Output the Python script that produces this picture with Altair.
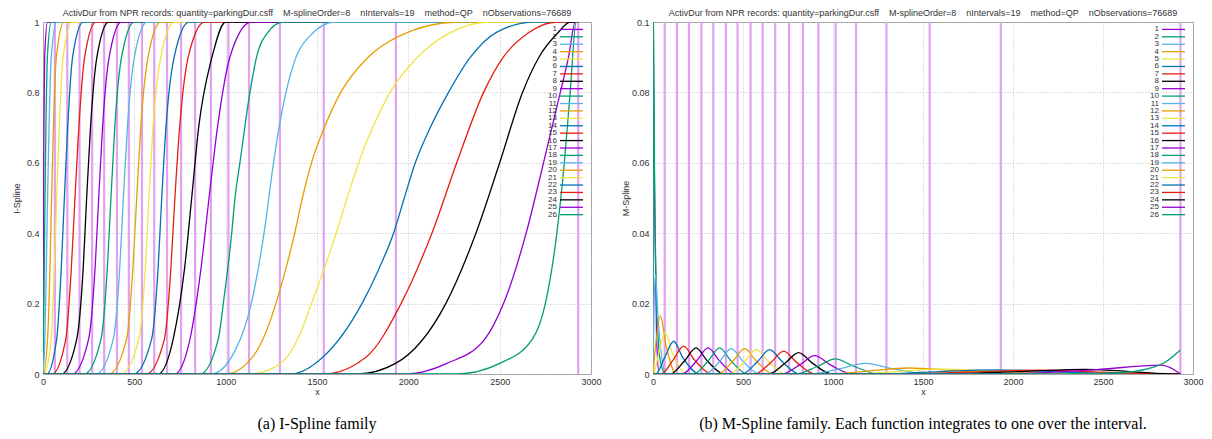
import altair as alt
import pandas as pd

NB = "\u00a0\u00a0\u00a0\u00a0"
HEADER = ("ActivDur from NPR records: quantity=parkingDur.csff" + NB + "M-splineOrder=8" + NB +
          "nIntervals=19" + NB + "method=QP" + NB + "nObservations=76689")
CAPTION_A = "(a) I-Spline family"
CAPTION_B = "(b) M-Spline family. Each function integrates to one over the interval."

curve_ids = [str(k) for k in range(1, 27)]
base_palette = ["#9400d3", "#009e73", "#56b4e9", "#e69f00", "#f0e442", "#0072b2", "#e51e10", "#000000"]
curve_colors = (base_palette * 4)[:26]

knots = [65, 133, 200, 269, 335, 405, 470, 542, 609, 679, 756, 833, 919, 1015, 1128, 1297, 1537, 1932, 2930]
x_end = 2930

x_ticks = [0, 500, 1000, 1500, 2000, 2500, 3000]
i_ticks = [0, 0.2, 0.4, 0.6, 0.8, 1.0]
m_ticks = [0, 0.02, 0.04, 0.06, 0.08, 0.1]

# I-spline curves: points (x, level)
L7 = [0.0, 0.1, 0.3, 0.5, 0.7, 0.9, 1.0]
i_spline_y = [L7] * 17 + [
    [0, 0.1, 0.2, 0.4, 0.5, 0.6, 0.8, 0.9, 0.97, 1],
    [0, 0.07, 0.2, 0.4, 0.6, 0.7, 0.8, 0.9, 0.96, 1],
    [0, 0.05, 0.1, 0.2, 0.3, 0.4, 0.5, 0.6, 0.7, 0.8, 0.9, 0.96, 1],
    [0, 0.03, 0.1, 0.2, 0.3, 0.4, 0.5, 0.6, 0.7, 0.8, 0.9, 0.97, 1],
    [0, 0.05, 0.2, 0.3, 0.4, 0.5, 0.6, 0.7, 0.8, 0.9, 0.97, 1],
    [0, 0.05, 0.2, 0.4, 0.6, 0.8, 0.9, 0.97, 1],
    [0, 0.03, 0.2, 0.4, 0.6, 0.8, 0.9, 0.97, 1],
    [0, 0.03, 0.1, 0.2, 0.4, 0.6, 0.8, 0.9, 1],
    [0, 0.03, 0.1, 0.2, 0.4, 0.6, 0.8, 1],
]
i_spline_x = [
    [0, 0.5, 1.5, 3, 5, 9, 25],
    [0, 3, 7, 11, 16, 24, 45],
    [0, 10, 18, 25, 33, 45, 75],
    [2, 25, 38, 47, 57, 73, 115],
    [5, 45, 62, 75, 89, 110, 160],
    [20, 75, 100, 117, 135, 162, 220],
    [50, 125, 155, 175, 196, 228, 290],
    [100, 185, 220, 239, 260, 295, 360],
    [160, 250, 285, 305, 326, 362, 430],
    [225, 318, 352, 372, 393, 430, 500],
    [290, 385, 420, 440, 462, 500, 570],
    [360, 458, 492, 513, 535, 575, 645],
    [425, 525, 560, 580, 602, 645, 720],
    [495, 595, 630, 650, 673, 718, 800],
    [565, 665, 700, 722, 748, 795, 885],
    [630, 713, 775, 814, 852, 925, 1000],
    [720, 805, 865, 909, 955, 1023, 1140],
    [860, 960, 987, 1033, 1051, 1078, 1133, 1169, 1230, 1315],
    [920, 1055, 1140, 1210, 1262, 1292, 1330, 1385, 1460, 1600],
    [1000, 1150, 1205, 1275, 1330, 1378, 1420, 1470, 1540, 1630, 1780, 1950, 2270],
    [1130, 1300, 1395, 1470, 1540, 1605, 1665, 1728, 1805, 1900, 2050, 2230, 2450],
    [1354, 1536, 1746, 1840, 1919, 1978, 2038, 2120, 2220, 2340, 2480, 2690],
    [1536, 1773, 1960, 2129, 2265, 2412, 2520, 2660, 2813],
    [1719, 1930, 2205, 2370, 2500, 2625, 2715, 2820, 2886],
    [1992, 2211, 2420, 2521, 2645, 2740, 2832, 2877, 2914],
    [2266, 2500, 2680, 2750, 2813, 2854, 2886, 2919],
]

# M-spline curves: points read along each bump (x, value)
m_spline_x = [
    [0, 4, 10, 20, 35],
    [0, 2, 8, 20, 40, 70],
    [0, 4, 13, 30, 75],
    [0, 15, 41, 72, 130],
    [2, 32, 68, 108, 190],
    [15, 65, 115, 165, 260],
    [45, 112, 170, 230, 330],
    [95, 175, 239, 302, 395],
    [160, 242, 306, 370, 460],
    [225, 306, 370, 434, 525],
    [290, 371, 435, 500, 592],
    [360, 443, 509, 575, 668],
    [425, 508, 574, 642, 735],
    [495, 580, 648, 718, 815],
    [565, 655, 726, 798, 900],
    [640, 735, 809, 885, 995],
    [715, 815, 898, 985, 1110],
    [790, 915, 1013, 1115, 1260],
    [880, 1040, 1180, 1330, 1530],
    [1000, 1200, 1420, 1700, 2050],
    [1100, 1350, 1600, 1950, 2400],
    [1250, 1550, 1900, 2250, 2700],
    [1400, 1800, 2150, 2450, 2850],
    [1600, 2050, 2400, 2650, 2920],
    [1900, 2450, 2820, 2895, 2930],
    [2300, 2600, 2750, 2850, 2930],
]
m_spline_y = [
    [0.123, 0.08, 0.045, 0.01, 0],
    [0, 0.1, 0.06, 0.02, 0.004, 0],
    [0, 0.0142, 0.0284, 0.0142, 0],
    [0, 0.0083, 0.0165, 0.0083, 0],
    [0, 0.0059, 0.0117, 0.0059, 0],
    [0, 0.0047, 0.0093, 0.0047, 0],
    [0, 0.0040, 0.0079, 0.0040, 0],
    [0, 0.0037, 0.0074, 0.0037, 0],
    [0, 0.0037, 0.0074, 0.0037, 0],
    [0, 0.0037, 0.0074, 0.0037, 0],
    [0, 0.0036, 0.0072, 0.0036, 0],
    [0, 0.0036, 0.0072, 0.0036, 0],
    [0, 0.0035, 0.0070, 0.0035, 0],
    [0, 0.0035, 0.0069, 0.0035, 0],
    [0, 0.0033, 0.0065, 0.0033, 0],
    [0, 0.0031, 0.0061, 0.0031, 0],
    [0, 0.0026, 0.0052, 0.0026, 0],
    [0, 0.0022, 0.0043, 0.0022, 0],
    [0, 0.0015, 0.0030, 0.0015, 0],
    [0, 0.0009, 0.0017, 0.0009, 0],
    [0, 0.0007, 0.0014, 0.0007, 0],
    [0, 0.0006, 0.0012, 0.0006, 0],
    [0, 0.0006, 0.0011, 0.0006, 0],
    [0, 0.0007, 0.0013, 0.0007, 0],
    [0, 0.0012, 0.0025, 0.0012, 0],
    [0, 0.0004, 0.0015, 0.0035, 0.0068],
]


def build(xs_list, ys_list, left_val, right_val):
    rows = []
    for cid, xs, ys in zip(curve_ids, xs_list, ys_list):
        pts = list(zip(xs, ys))
        if pts[0][0] > 0:
            pts = [(0, left_val)] + pts
        if pts[-1][0] < x_end:
            pts = pts + [(x_end, right_val)]
        for o, (x, y) in enumerate(pts):
            rows.append({"curve": cid, "x": x, "y": y, "o": o})
    return pd.DataFrame(rows)


i_df = build(i_spline_x, i_spline_y, 0.0, 1.0)
m_df = build(m_spline_x, m_spline_y, 0.0, 0.0)
knot_df = pd.DataFrame({"x": knots})
leg_df = pd.DataFrame({"curve": curve_ids, "k": list(range(1, 27))})

FONT = "Liberation Sans"
color_scale = alt.Scale(domain=curve_ids, range=curve_colors)


def panel(df, ymax, yticks, ytitle, caption, w, h, tpad):
    xscale = alt.Scale(domain=[0, 3000], nice=False)
    knots_layer = alt.Chart(knot_df).mark_rule(color="#e2a2f1", strokeWidth=2.2).encode(
        x=alt.X("x:Q", scale=xscale))
    lines = alt.Chart(df).mark_line(strokeWidth=1.3, clip=True, interpolate="monotone").encode(
        x=alt.X("x:Q", scale=xscale,
                axis=alt.Axis(values=x_ticks, title="x", format="d", labelFlush=False)),
        y=alt.Y("y:Q", scale=alt.Scale(domain=[0, ymax], nice=False),
                axis=alt.Axis(values=yticks, title=ytitle, format="~g", titlePadding=tpad)),
        color=alt.Color("curve:N", scale=color_scale, legend=None),
        order="o:Q",
        detail="curve:N",
    )
    leg_y = alt.Y("k:Q", scale=alt.Scale(domain=[0, 47.5], reverse=True), axis=None)
    leg_text = alt.Chart(leg_df).mark_text(align="right", baseline="middle", fontSize=8,
                                           font=FONT, color="#333").encode(
        x=alt.value(w - 34), y=leg_y, text="k:N")
    leg_rule = alt.Chart(leg_df).mark_rule(strokeWidth=1.3).encode(
        x=alt.value(w - 31), x2=alt.value(w - 8), y=leg_y,
        color=alt.Color("curve:N", scale=color_scale, legend=None))
    cap = alt.Chart(pd.DataFrame({"t": [caption]})).mark_text(
        font="Liberation Serif", fontSize=16, color="#000", baseline="middle").encode(
        x=alt.value(w / 2), y=alt.value(h + 50), text="t:N")
    return alt.layer(knots_layer, lines, leg_rule, leg_text, cap).resolve_scale(y="independent").properties(
        width=w, height=h,
        title=alt.TitleParams(HEADER, fontSize=9, fontWeight="normal", font=FONT, color="#333",
                              anchor="middle", offset=0))


left = panel(i_df, 1.0, i_ticks, "I-Spline", CAPTION_A, 548, 352, 5)
right = panel(m_df, 0.1, m_ticks, "M-Spline", CAPTION_B, 540, 352, 1)

chart = alt.hconcat(left, right, spacing=18).properties(
    padding={"left": 3, "top": 0, "right": 0, "bottom": 0}
).configure_view(stroke="#999999", strokeWidth=1).configure_axis(
    labelFont=FONT, labelFontSize=9, labelColor="#333", titleFont=FONT, titleFontSize=9,
    titleFontWeight="normal", titleColor="#333", grid=True, gridDash=[1, 2], gridColor="#c0c0c0",
    domain=False, tickSize=0, labelPadding=4
).configure_axisX(titlePadding=1, labelPadding=3)

chart.save("out.html", embed_options={"renderer": "svg", "actions": False})
